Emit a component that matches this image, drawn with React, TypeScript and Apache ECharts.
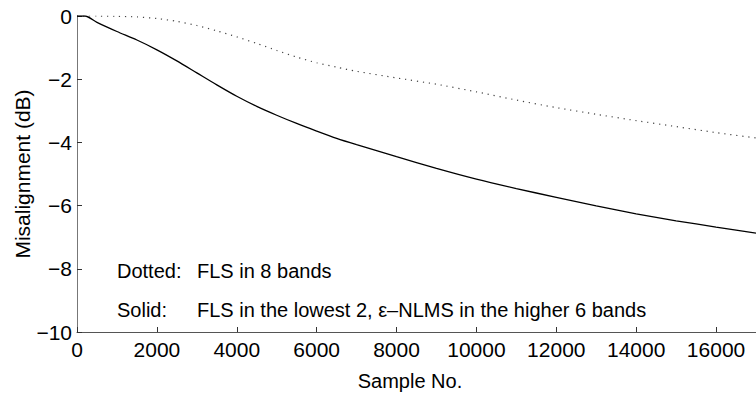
import React, { useEffect, useRef } from "react";
import * as echarts from "echarts";

const samples = [0, 200, 500, 1000, 1500, 2000, 2500, 3000, 3500, 4000, 4500, 5000, 5500, 6000, 6500, 7000, 8000, 9000, 10000, 11000, 12000, 13000, 14000, 15000, 16000, 17000];
const solidValues = [0, 0, -0.2, -0.49, -0.76, -1.07, -1.42, -1.8, -2.18, -2.54, -2.86, -3.14, -3.4, -3.64, -3.87, -4.07, -4.45, -4.82, -5.16, -5.46, -5.74, -6.01, -6.26, -6.48, -6.68, -6.87];
const dottedValues = [0, 0, 0, -0.01, -0.03, -0.08, -0.17, -0.3, -0.47, -0.66, -0.87, -1.09, -1.3, -1.48, -1.62, -1.75, -1.96, -2.16, -2.4, -2.66, -2.9, -3.11, -3.31, -3.5, -3.69, -3.86];

const xTickStep = 2000;
const yTicks = { min: -10, max: 0, step: 2 };
const yAxisTitle = "Misalignment (dB)";
const xAxisTitle = "Sample No.";
const noteLabels = ["Dotted:", "Solid:"];
const noteTexts = ["FLS in 8 bands", "FLS in the lowest 2, \u03b5\u2013NLMS in the higher 6 bands"];

const FONT = "'Liberation Sans', Arial, Helvetica, sans-serif";

export default function App() {
  const ref = useRef<HTMLDivElement>(null);
  useEffect(() => {
    if (!ref.current) return;
    const chart = echarts.init(ref.current, null, { renderer: "svg" });
    const fmtNum = (v: number) => (v < 0 ? "\u2212" + String(-v) : String(v));
    chart.setOption({
      animation: false,
      backgroundColor: "#fff",
      grid: { left: 77, top: 16, width: 680, height: 316, containLabel: false },
      xAxis: {
        type: "value",
        min: 0,
        max: 17000,
        interval: xTickStep,
        axisLine: { show: true, onZero: false, lineStyle: { color: "#555", width: 1 } },
        axisTick: { show: true, inside: true, length: 5, lineStyle: { color: "#333" } },
        splitLine: { show: false },
        axisLabel: {
          color: "#000",
          fontSize: 21,
          fontFamily: FONT,
          margin: 7,
          showMaxLabel: false,
          formatter: (v: number) => (v % xTickStep === 0 ? String(v) : ""),
        },
      },
      yAxis: {
        type: "value",
        min: yTicks.min,
        max: yTicks.max,
        interval: yTicks.step,
        axisLine: { show: true, onZero: false, lineStyle: { color: "#777", width: 1 } },
        axisTick: { show: true, inside: true, length: 5, lineStyle: { color: "#333" } },
        splitLine: { show: false },
        axisLabel: {
          color: "#000",
          fontSize: 21,
          fontFamily: FONT,
          margin: 5,
          formatter: (v: number) => fmtNum(v),
        },
      },
      series: [
        {
          type: "line",
          name: "Dotted",
          data: samples.map((s, i) => [s, dottedValues[i]]),
          symbol: "none",
          smooth: 0.25,
          lineStyle: { color: "#444", width: 1.2, type: [1.2, 4.8] },
        },
        {
          type: "line",
          name: "Solid",
          data: samples.map((s, i) => [s, solidValues[i]]),
          symbol: "none",
          smooth: 0.25,
          lineStyle: { color: "#000", width: 1.3 },
        },
      ],
      graphic: [
        {
          type: "text",
          x: 22,
          y: 174,
          rotation: Math.PI / 2,
          style: { text: yAxisTitle, font: `21px ${FONT}`, fill: "#000", align: "center", verticalAlign: "middle" },
        },
        {
          type: "text",
          x: 410,
          y: 381,
          style: { text: xAxisTitle, font: `20px ${FONT}`, fill: "#000", align: "center", verticalAlign: "middle" },
        },
        {
          type: "text",
          x: 117,
          y: 271,
          style: { text: noteLabels[0], font: `20px ${FONT}`, fill: "#000", align: "left", verticalAlign: "middle" },
        },
        {
          type: "text",
          x: 197,
          y: 271,
          style: { text: noteTexts[0], font: `20px ${FONT}`, fill: "#000", align: "left", verticalAlign: "middle" },
        },
        {
          type: "text",
          x: 117,
          y: 310,
          style: { text: noteLabels[1], font: `20px ${FONT}`, fill: "#000", align: "left", verticalAlign: "middle" },
        },
        {
          type: "text",
          x: 197,
          y: 310,
          style: { text: noteTexts[1], font: `20px ${FONT}`, fill: "#000", align: "left", verticalAlign: "middle" },
        },
      ],
    });
    return () => chart.dispose();
  }, []);
  return <div ref={ref} style={{ position: "fixed", left: 0, top: 0, width: 756, height: 393 }} />;
}
